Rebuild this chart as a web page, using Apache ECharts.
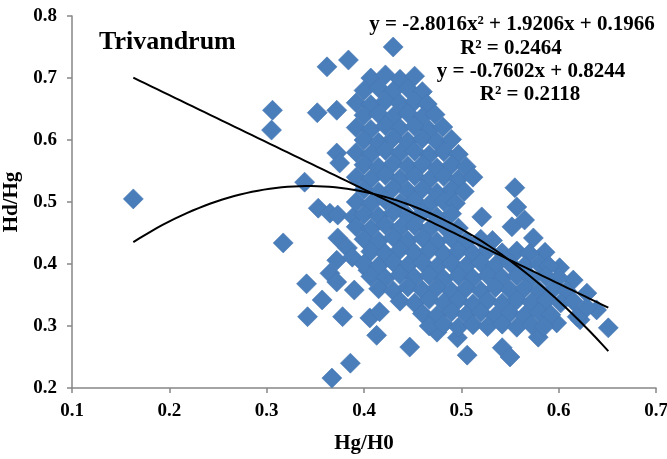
<!DOCTYPE html>
<html>
<head>
<meta charset="utf-8">
<script src="https://cdn.jsdelivr.net/npm/echarts@6/dist/echarts.min.js"></script>
<style>html,body{margin:0;padding:0;background:#fff;}#c{width:667px;height:459px;}</style>
</head>
<body>
<div id="c"></div>
<script>
// Scatter points [Hg/H0, Hd/Hg]
var outliers = [[0.163,0.505],[0.306,0.648],[0.305,0.616],[0.317,0.434],[0.339,0.532],[0.341,0.368],[0.342,0.315],[0.352,0.644],[0.362,0.718],[0.357,0.342],[0.353,0.49],[0.365,0.482],[0.373,0.479],[0.389,0.476],[0.367,0.216],[0.386,0.24],[0.384,0.729],[0.372,0.648],[0.372,0.579],[0.375,0.563],[0.373,0.442],[0.383,0.426],[0.372,0.406],[0.388,0.411],[0.365,0.385],[0.372,0.371],[0.39,0.358],[0.404,0.39],[0.378,0.315],[0.406,0.313],[0.416,0.323],[0.413,0.285],[0.447,0.266],[0.43,0.75],[0.475,0.29],[0.496,0.281],[0.506,0.253],[0.542,0.265],[0.55,0.25],[0.579,0.282],[0.521,0.476],[0.552,0.46]];
var band = [[0.555,0.523],[0.557,0.492],[0.565,0.471],[0.574,0.442],[0.586,0.419],[0.601,0.394],[0.615,0.374],[0.629,0.353],[0.639,0.326],[0.651,0.297],[0.622,0.31],[0.598,0.305],[0.619,0.315],[0.629,0.33]];
var upperBlock = [
[0.407,0.70],[0.422,0.705],[0.437,0.698],[0.452,0.703],
[0.40,0.68],[0.415,0.684],[0.43,0.679],[0.445,0.683],[0.46,0.678],
[0.392,0.66],[0.407,0.657],[0.422,0.663],[0.437,0.659],[0.452,0.662],[0.465,0.658],
[0.40,0.64],[0.415,0.642],[0.43,0.638],[0.445,0.643],[0.46,0.637],[0.473,0.641],
[0.392,0.62],[0.407,0.617],[0.422,0.623],[0.437,0.619],[0.452,0.622],[0.467,0.616],[0.481,0.621],
[0.40,0.6],[0.415,0.596],[0.43,0.603],[0.445,0.598],[0.46,0.602],[0.475,0.597],[0.49,0.601],
[0.392,0.58],[0.407,0.577],[0.422,0.583],[0.437,0.579],[0.452,0.582],[0.467,0.576],[0.482,0.581],[0.497,0.577],
[0.40,0.56],[0.415,0.556],[0.43,0.562],[0.445,0.558],[0.46,0.561],[0.475,0.555],[0.49,0.56],[0.505,0.557],
[0.392,0.54],[0.407,0.537],[0.422,0.543],[0.437,0.538],[0.452,0.542],[0.467,0.536],[0.482,0.541],[0.497,0.537],[0.512,0.54],
[0.40,0.52],[0.415,0.516],[0.43,0.522],[0.445,0.518],[0.46,0.521],[0.475,0.515],[0.49,0.52],[0.503,0.517],
[0.392,0.5],[0.407,0.497],[0.422,0.503],[0.437,0.498],[0.452,0.502],[0.467,0.496],[0.482,0.501],[0.494,0.498],
[0.40,0.48],[0.415,0.477],[0.43,0.483],[0.445,0.478],[0.46,0.482],[0.475,0.476],[0.49,0.481],
[0.392,0.46],[0.407,0.457],[0.422,0.463],[0.437,0.458],[0.452,0.462],[0.467,0.456],[0.482,0.461],[0.497,0.458]];
var lowerBlock = [
[0.40,0.44],[0.415,0.437],[0.43,0.443],[0.445,0.438],[0.46,0.442],[0.475,0.436],[0.49,0.441],[0.505,0.437],[0.52,0.44],[0.532,0.438],
[0.407,0.42],[0.422,0.417],[0.437,0.423],[0.452,0.418],[0.467,0.422],[0.482,0.416],[0.497,0.421],[0.512,0.417],[0.527,0.422],[0.542,0.418],[0.557,0.421],[0.57,0.417],
[0.40,0.4],[0.415,0.397],[0.43,0.403],[0.445,0.398],[0.46,0.402],[0.475,0.396],[0.49,0.401],[0.505,0.397],[0.52,0.402],[0.535,0.398],[0.55,0.401],[0.565,0.397],[0.58,0.4],[0.59,0.397],
[0.407,0.38],[0.422,0.377],[0.437,0.383],[0.452,0.378],[0.467,0.382],[0.482,0.376],[0.497,0.381],[0.512,0.377],[0.527,0.382],[0.542,0.378],[0.557,0.381],[0.572,0.377],[0.587,0.38],[0.60,0.378],
[0.415,0.36],[0.43,0.357],[0.445,0.363],[0.46,0.358],[0.475,0.362],[0.49,0.356],[0.505,0.361],[0.52,0.357],[0.535,0.362],[0.55,0.358],[0.565,0.361],[0.58,0.357],[0.595,0.36],[0.608,0.357],
[0.437,0.34],[0.452,0.337],[0.467,0.343],[0.482,0.338],[0.497,0.342],[0.512,0.336],[0.527,0.341],[0.542,0.337],[0.557,0.342],[0.572,0.338],[0.587,0.341],[0.602,0.337],[0.615,0.34],
[0.46,0.32],[0.475,0.317],[0.49,0.323],[0.505,0.318],[0.52,0.322],[0.535,0.316],[0.55,0.321],[0.565,0.317],[0.58,0.322],[0.592,0.318],
[0.467,0.3],[0.482,0.303],[0.497,0.298],[0.512,0.302],[0.527,0.299],[0.542,0.303],[0.557,0.298],[0.572,0.302],[0.585,0.299]];

// Trendline coefficients (from the chart's printed equations)
var linCoef = [-0.7602, 0.8244];           // y = a x + b
var polyCoef = [-2.8016, 1.9206, 0.1966];  // y = a x^2 + b x + c
var xTicks = [0.1, 0.2, 0.3, 0.4, 0.5, 0.6, 0.7];
var yTicks = [0.2, 0.3, 0.4, 0.5, 0.6, 0.7, 0.8];
var eqTexts = ['y = -2.8016x\u00B2 + 1.9206x + 0.1966', 'R\u00B2 = 0.2464', 'y = -0.7602x + 0.8244', 'R\u00B2 = 0.2118'];

var allPts = outliers.concat(band, upperBlock, lowerBlock);
var xmin = Infinity, xmax = -Infinity;
allPts.forEach(function(p){ if(p[0]<xmin) xmin=p[0]; if(p[0]>xmax) xmax=p[0]; });
var linLine = [], polyLine = [];
var N = 80;
for (var i = 0; i <= N; i++) {
  var x = xmin + (xmax - xmin) * i / N;
  linLine.push([x, linCoef[0]*x + linCoef[1]]);
  polyLine.push([x, polyCoef[0]*x*x + polyCoef[1]*x + polyCoef[2]]);
}

var serif = '"Liberation Serif", "Times New Roman", serif';
var axisGrey = '#868686';
var chart = echarts.init(document.getElementById('c'));
chart.setOption({
  animation: false,
  grid: {left: 72, right: 11, top: 16, bottom: 71, containLabel: false, outerBoundsMode: 'none'},
  xAxis: {
    type: 'value', min: xTicks[0], max: xTicks[xTicks.length-1], interval: 0.1,
    name: 'Hg/H0', nameLocation: 'middle', nameGap: 45,
    nameTextStyle: {fontFamily: serif, fontWeight: 'bold', fontSize: 21, color: '#000'},
    axisLine: {show: true, lineStyle: {color: axisGrey, width: 1.5}},
    axisTick: {show: true, length: 5, lineStyle: {color: axisGrey, width: 1.5}},
    splitLine: {show: false},
    axisLabel: {fontFamily: serif, fontWeight: 'bold', fontSize: 19, color: '#000', margin: 14,
      hideOverlap: false, formatter: function(v){ return v.toFixed(1); }}
  },
  yAxis: {
    type: 'value', min: yTicks[0], max: yTicks[yTicks.length-1], interval: 0.1,
    name: 'Hd/Hg', nameLocation: 'middle', nameGap: 43,
    nameTextStyle: {fontFamily: serif, fontWeight: 'bold', fontSize: 21, color: '#000'},
    axisLine: {show: true, lineStyle: {color: axisGrey, width: 1.5}},
    axisTick: {show: true, length: 5, lineStyle: {color: axisGrey, width: 1.5}},
    splitLine: {show: false},
    axisLabel: {fontFamily: serif, fontWeight: 'bold', fontSize: 19, color: '#000', margin: 15,
      formatter: function(v){ return v.toFixed(1); }}
  },
  series: [
    {type: 'scatter', data: allPts, symbol: 'diamond', symbolSize: 20,
     itemStyle: {color: '#4A7EBB', opacity: 1, borderColor: '#4475b0', borderWidth: 0.6}, z: 2},
    {type: 'line', data: polyLine, showSymbol: false, symbol: 'none', smooth: false,
     lineStyle: {color: '#000', width: 2}, z: 3},
    {type: 'line', data: linLine, showSymbol: false, symbol: 'none',
     lineStyle: {color: '#000', width: 2}, z: 3}
  ],
  graphic: [
    {type: 'text', left: 99, top: 29, style: {text: 'Trivandrum', font: 'bold 26px ' + serif, fill: '#000'}},
    {type: 'text', x: 512, y: 25, style: {text: eqTexts[0], font: 'bold 21px ' + serif, fill: '#000', textAlign: 'center', textVerticalAlign: 'middle'}},
    {type: 'text', x: 511, y: 49, style: {text: eqTexts[1], font: 'bold 21px ' + serif, fill: '#000', textAlign: 'center', textVerticalAlign: 'middle'}},
    {type: 'text', x: 531, y: 72, style: {text: eqTexts[2], font: 'bold 21px ' + serif, fill: '#000', textAlign: 'center', textVerticalAlign: 'middle'}},
    {type: 'text', x: 530, y: 95, style: {text: eqTexts[3], font: 'bold 21px ' + serif, fill: '#000', textAlign: 'center', textVerticalAlign: 'middle'}}
  ]
});
</script>
</body>
</html>
